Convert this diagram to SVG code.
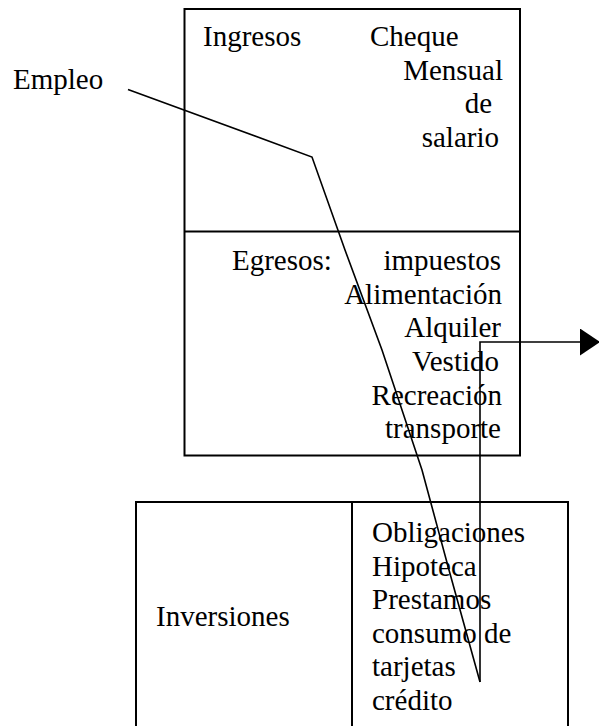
<svg xmlns="http://www.w3.org/2000/svg" width="599" height="726" viewBox="0 0 599 726">
<style>
  .box { fill: #ffffff; stroke: #000000; stroke-width: 2; }
  .div { stroke: #000000; stroke-width: 2; fill: none; }
  .t { font-family: "Liberation Serif", "Times New Roman", serif; font-size: 29px; fill: #000000; }
  .e { text-anchor: end; }
  .conn { fill: none; stroke: #000000; stroke-width: 1.6; stroke-linejoin: miter; }
</style>
<defs>
  <marker id="arrow" markerUnits="userSpaceOnUse" markerWidth="22" markerHeight="28" refX="20" refY="13.5" orient="auto">
    <path d="M0,0 L20,13.5 L0,27 Z" fill="#000000"/>
  </marker>
</defs>
<rect width="599" height="726" fill="#ffffff"/>
<g id="node-presupuesto">
  <rect class="box" x="184.5" y="9" width="335.5" height="446.5"/>
  <line class="div" x1="184.5" y1="231.5" x2="520" y2="231.5"/>
  <text class="t" x="203" y="46">Ingresos</text>
  <text class="t" x="370" y="46">Cheque</text>
  <text class="t e" x="503" y="80">Mensual</text>
  <text class="t e" x="492" y="113">de</text>
  <text class="t e" x="499" y="147">salario</text>
  <text class="t" x="232" y="270">Egresos:</text>
  <text class="t e" x="501" y="270">impuestos</text>
  <text class="t e" x="502" y="304">Alimentación</text>
  <text class="t e" x="501" y="337">Alquiler</text>
  <text class="t e" x="499" y="371">Vestido</text>
  <text class="t e" x="502" y="405">Recreación</text>
  <text class="t e" x="501" y="438">transporte</text>
</g>
<g id="node-inversiones">
  <rect class="box" x="136" y="502" width="432" height="260"/>
  <line class="div" x1="352" y1="502" x2="352" y2="762"/>
  <text class="t" x="156" y="626">Inversiones</text>
  <text class="t" x="372" y="542">Obligaciones</text>
  <text class="t" x="372" y="575.5">Hipoteca</text>
  <text class="t" x="372" y="609">Prestamos</text>
  <text class="t" x="372" y="642.5">consumo de</text>
  <text class="t" x="372" y="676">tarjetas</text>
  <text class="t" x="372" y="709.5">crédito</text>
</g>
<g id="node-empleo">
  <text class="t" x="13" y="89">Empleo</text>
</g>
<g id="connectors">
  <polyline class="conn" points="128,89.5 312,157 345,250 382,350 422,470 449,570 480,682"/>
  <polyline class="conn" stroke-width="2" points="480,682 480,342 600,342" marker-end="url(#arrow)"/>
</g>
</svg>
